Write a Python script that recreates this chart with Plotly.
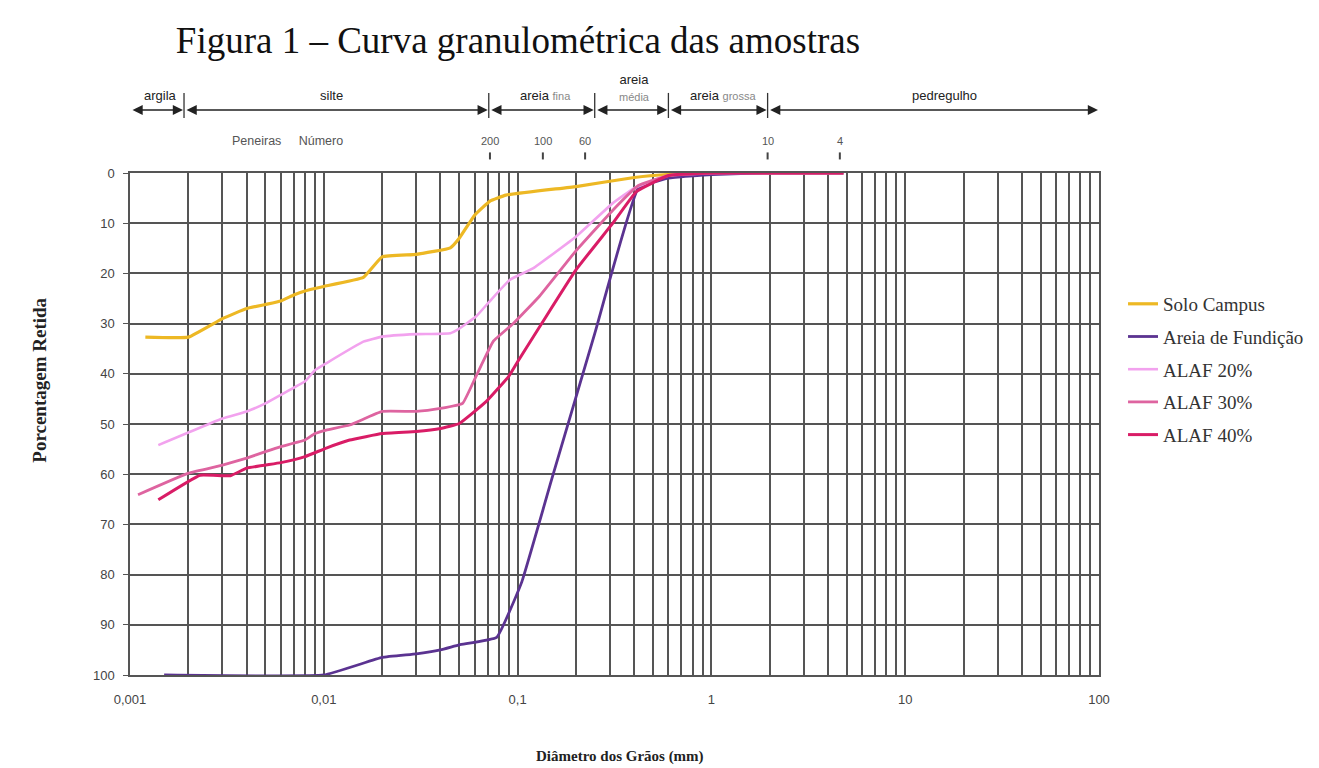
import math
import plotly.graph_objects as go

# ---------------- data ----------------
solo_x = [0.0012, 0.002, 0.003, 0.004, 0.005, 0.006, 0.007, 0.008, 0.009, 0.01, 0.016, 0.02,
          0.03, 0.045, 0.05, 0.06, 0.072, 0.087, 0.2, 0.4, 0.6, 1.0, 2.0, 4.8]
solo_y = [32.7, 32.7, 29.0, 27.0, 26.2, 25.5, 24.3, 23.5, 23.0, 22.6, 20.8, 16.7,
          16.2, 14.9, 13.0, 8.4, 5.6, 4.4, 2.7, 0.9, 0.3, 0.0, 0.0, 0.0]

areia_x = [0.0015, 0.01, 0.02, 0.03, 0.04, 0.05, 0.078, 0.105, 0.15, 0.25, 0.42, 0.6, 1.0, 2.0, 4.8]
areia_y = [100.0, 100.0, 96.5, 95.8, 95.0, 94.0, 92.5, 81.5, 61.0, 32.0, 3.0, 1.0, 0.3, 0.0, 0.0]

alaf20_x = [0.0014, 0.003, 0.004, 0.005, 0.006, 0.008, 0.009, 0.0103, 0.016, 0.02, 0.03, 0.045,
            0.05, 0.061, 0.072, 0.091, 0.12, 0.2, 0.31, 0.4, 0.6, 1.0, 2.0, 4.8]
alaf20_y = [54.2, 48.9, 47.5, 45.9, 44.2, 41.5, 39.3, 37.9, 33.6, 32.6, 32.1, 31.9,
            31.0, 28.6, 25.5, 21.3, 19.0, 12.7, 6.0, 3.0, 0.5, 0.0, 0.0, 0.0]

alaf30_x = [0.0011, 0.002, 0.003, 0.004, 0.005, 0.006, 0.008, 0.009, 0.0103, 0.0136, 0.02, 0.03,
            0.04, 0.052, 0.061, 0.075, 0.095, 0.13, 0.2, 0.31, 0.42, 0.6, 1.0, 2.0, 4.8]
alaf30_y = [64.1, 59.8, 58.2, 56.8, 55.5, 54.5, 53.2, 51.9, 51.2, 50.2, 47.5, 47.5,
            46.9, 45.9, 40.5, 33.5, 30.0, 24.5, 15.5, 7.4, 2.5, 0.5, 0.0, 0.0, 0.0]

alaf40_x = [0.0014, 0.0023, 0.0033, 0.004, 0.006, 0.008, 0.0103, 0.0136, 0.02, 0.03, 0.04, 0.05,
            0.069, 0.09, 0.1, 0.2, 0.31, 0.41, 0.6, 1.0, 2.0, 4.8]
alaf40_y = [65.1, 60.2, 60.3, 58.8, 57.7, 56.5, 54.8, 53.2, 51.9, 51.5, 50.9, 49.9,
            45.5, 40.5, 37.6, 19.3, 10.0, 3.7, 0.5, 0.0, 0.0, 0.0]

series_names = ["Solo Campus", "Areia de Fundição", "ALAF 20%", "ALAF 30%", "ALAF 40%"]
series_colors = ["#EDB824", "#5B3391", "#F2A2EE", "#DE64A0", "#D91C66"]

decades = [0.001, 0.01, 0.1, 1, 10, 100]
decade_labels = ["0,001", "0,01", "0,1", "1", "10", "100"]
y_ticks = [0, 10, 20, 30, 40, 50, 60, 70, 80, 90, 100]

# soil fraction bands (mm)
band_names = ["argila", "silte",
              "areia <span style='color:#888;font-size:11px'>fina</span>",
              "areia<br><span style='color:#888;font-size:11px'>média</span>",
              "areia <span style='color:#888;font-size:11px'>grossa</span>",
              "pedregulho"]
band_limits = [0.001, 0.0019, 0.071, 0.25, 0.6, 1.95, 100]
band_label_x = [0.00143, 0.011, 0.14, 0.4, 1.15, 16]

sieve_numbers = ["200", "100", "60", "10", "4"]
sieve_mm = [0.072, 0.135, 0.223, 1.95, 4.6]

# ---------------- figure ----------------
fig = go.Figure()
all_x = [solo_x, areia_x, alaf20_x, alaf30_x, alaf40_x]
all_y = [solo_y, areia_y, alaf20_y, alaf30_y, alaf40_y]
widths = [3.2, 2.8, 2.6, 2.8, 3.0]
for name, xs, ys, col, w in zip(series_names, all_x, all_y, series_colors, widths):
    fig.add_trace(go.Scatter(x=xs, y=ys, mode="lines", name=name, legendgroup=name,
                             line=dict(color=col, width=w, shape="spline", smoothing=0.3)))

tickvals, ticktext = [], []
for d, lab in zip(decades[:-1], decade_labels[:-1]):
    for k in range(1, 10):
        tickvals.append(d * k)
        ticktext.append(lab if k == 1 else "")
tickvals.append(decades[-1])
ticktext.append(decade_labels[-1])

grid_col = "#555555"
axis_font = dict(family="Liberation Sans, Arial", size=13, color="#444")

fig.update_xaxes(type="log", range=[math.log10(decades[0]), math.log10(decades[-1])],
                 tickmode="array", tickvals=tickvals, ticktext=ticktext,
                 showgrid=True, gridcolor=grid_col, gridwidth=1.5,
                 showline=True, linecolor=grid_col, linewidth=1.5, mirror=True,
                 zeroline=False, ticks="", ticklabelstandoff=12, tickfont=axis_font)
fig.update_yaxes(range=[100, 0], tickmode="array", tickvals=y_ticks,
                 showgrid=True, gridcolor=grid_col, gridwidth=1.5,
                 showline=True, linecolor=grid_col, linewidth=1.5, mirror=True,
                 zeroline=False, ticks="outside", ticklen=5, tickcolor=grid_col,
                 ticklabelstandoff=6, tickfont=axis_font)

annotations = []
shapes = []
arrow_y = 1.1255
label_font = dict(family="Liberation Sans, Arial", size=13, color="#222")
for i in range(len(band_limits) - 1):
    a, b = band_limits[i], band_limits[i + 1]
    annotations.append(dict(x=math.log10(b), y=arrow_y, xref="x", yref="paper",
                            ax=math.log10(a), ay=0, axref="x", ayref="pixel",
                            text="", showarrow=True, arrowhead=2, startarrowhead=2,
                            arrowside="end+start", arrowsize=1.2, startarrowsize=1.2,
                            arrowwidth=1.7, arrowcolor="#222", standoff=1, startstandoff=1))
    annotations.append(dict(x=math.log10(band_label_x[i]), y=arrow_y + 0.01, xref="x", yref="paper",
                            text=band_names[i], showarrow=False, yanchor="bottom", xanchor="center",
                            font=label_font))
for lim in band_limits[1:-1]:
    shapes.append(dict(type="line", xref="x", yref="paper", x0=lim, x1=lim,
                       y0=arrow_y - 0.016, y1=arrow_y + 0.034, line=dict(color="#333", width=1.3)))

for num, mm in zip(sieve_numbers, sieve_mm):
    annotations.append(dict(x=math.log10(mm), y=1.0637, xref="x", yref="paper", text=num,
                            showarrow=False, xanchor="center", yanchor="middle",
                            font=dict(family="Liberation Sans, Arial", size=11, color="#555")))
    shapes.append(dict(type="line", xref="x", yref="paper", x0=mm, x1=mm, y0=1.027, y1=1.041,
                       line=dict(color="#444", width=2)))
annotations.append(dict(x=math.log10(0.0065), y=1.0637, xref="x", yref="paper",
                        text="Peneiras&nbsp;&nbsp;&nbsp;&nbsp;&nbsp;Número", showarrow=False,
                        xanchor="center", yanchor="middle",
                        font=dict(family="Liberation Sans, Arial", size=12.5, color="#555")))

annotations.append(dict(x=0.506, y=-0.163, xref="paper", yref="paper", showarrow=False,
                        xanchor="center", yanchor="middle",
                        text="<b>Diâmetro dos Grãos (mm)</b>",
                        font=dict(family="Liberation Serif, Times New Roman", size=15, color="#222")))
annotations.append(dict(x=-0.093, y=0.588, xref="paper", yref="paper", showarrow=False, textangle=-90,
                        xanchor="center", yanchor="middle",
                        text="<b>Porcentagem Retida</b>",
                        font=dict(family="Liberation Serif, Times New Roman", size=19, color="#222")))

fig.update_layout(
    width=1319, height=768,
    margin=dict(l=122, r=228, t=165, b=101),
    paper_bgcolor="white", plot_bgcolor="white",
    title=dict(text="Figura 1 – Curva granulométrica das amostras", x=510 / 1319, xanchor="center",
               y=1 - 32 / 768, yanchor="middle",
               font=dict(family="Liberation Serif, Times New Roman", size=37, color="#111")),
    legend=dict(x=1.0248, y=0.777, xanchor="left", yanchor="top", tracegroupgap=5,
                font=dict(family="Liberation Serif, Times New Roman", size=19, color="#333"),
                bgcolor="rgba(0,0,0,0)"),
    annotations=annotations, shapes=shapes,
    showlegend=True,
)

fig.write_html("out.html")
